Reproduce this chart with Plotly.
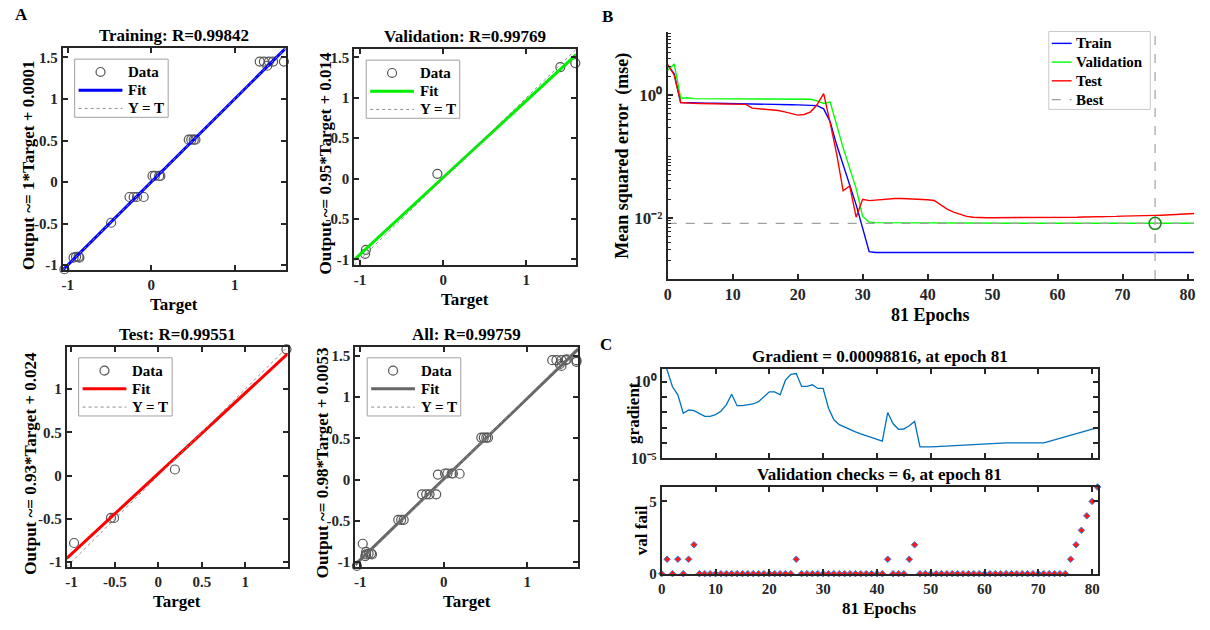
import plotly.graph_objects as go

W, H = 1210, 630
FONT = "Liberation Serif"
AX = "#262626"

# ---------------- regression data: target vs network output ----------------
train_target = [1.30, 1.35, 1.39, 1.41, 1.46, 1.59, 0.45, 0.48, 0.51, 0.53,
                0.016, 0.044, 0.095, 0.11, -0.26, -0.21, -0.17, -0.09, -0.48,
                -0.93, -0.90, -0.87, -0.86, -1.04]
train_output = [1.45, 1.45, 1.40, 1.45, 1.45, 1.45, 0.51, 0.51, 0.51, 0.51,
                0.073, 0.073, 0.073, 0.073, -0.18, -0.18, -0.18, -0.18, -0.49,
                -0.91, -0.90, -0.90, -0.91, -1.05]
val_target = [-0.93, -0.94, -0.07, 1.41, 1.59]
val_output = [-0.88, -0.93, 0.06, 1.38, 1.43]
test_target = [-0.97, -0.545, -0.51, 0.19, 1.474]
test_output = [-0.78, -0.49, -0.49, 0.07, 1.46]
all_target = train_target + val_target + test_target
all_output = train_output + val_output + test_output

# regression fit (slope, intercept) and R of each subset
fit_coef = {"Training": (1.0, 0.0001), "Validation": (0.95, 0.014),
            "Test": (0.93, 0.024), "All": (0.98, 0.0053)}
r_value = {"Training": "0.99842", "Validation": "0.99769",
           "Test": "0.99551", "All": "0.99759"}

# ---------------- training record ----------------
epochs = list(range(82))
train_mse = [3.09, 2.24, 0.759, 0.750, 0.748, 0.745, 0.742, 0.740, 0.738, 0.735,
             0.733, 0.730, 0.727, 0.723, 0.720, 0.716, 0.712, 0.708, 0.704, 0.700,
             0.695, 0.690, 0.685, 0.676, 0.600, 0.370, 0.155, 0.0724, 0.0347, 0.0162,
             0.00676, 0.00280, 0.00270, 0.00270, 0.00270, 0.00270, 0.00270, 0.00270,
             0.00270, 0.00270, 0.00270, 0.00270, 0.00270, 0.00270, 0.00270, 0.00270,
             0.00270, 0.00270, 0.00270, 0.00270, 0.00270, 0.00270, 0.00270, 0.00270,
             0.00270, 0.00270, 0.00270, 0.00270, 0.00270, 0.00270, 0.00270, 0.00270,
             0.00270, 0.00270, 0.00270, 0.00270, 0.00270, 0.00270, 0.00270, 0.00270,
             0.00270, 0.00270, 0.00270, 0.00270, 0.00270, 0.00270, 0.00270, 0.00270,
             0.00270, 0.00270, 0.00270, 0.00270]
val_mse = [2.57, 3.24, 0.891, 0.912, 0.880, 0.878, 0.877, 0.876, 0.875, 0.874,
           0.873, 0.872, 0.871, 0.870, 0.869, 0.868, 0.867, 0.866, 0.865, 0.864,
           0.863, 0.862, 0.860, 0.810, 0.733, 0.776, 0.324, 0.138, 0.0646, 0.0302,
           0.0105, 0.0085, 0.00830, 0.00828, 0.00826, 0.00825, 0.00824, 0.00823,
           0.00822, 0.00821, 0.00820, 0.00819, 0.00821, 0.00818, 0.00817, 0.00816,
           0.00817, 0.00818, 0.00815, 0.00815, 0.00814, 0.00814, 0.00814, 0.00813,
           0.00813, 0.00813, 0.00813, 0.00812, 0.00812, 0.00812, 0.00812, 0.00812,
           0.00811, 0.00811, 0.00811, 0.00811, 0.00811, 0.00811, 0.00811, 0.00811,
           0.00810, 0.00810, 0.00810, 0.00810, 0.00810, 0.00809, 0.00810, 0.00810,
           0.00811, 0.00811, 0.00811, 0.00812]
test_mse = [3.16, 2.14, 0.760, 0.741, 0.735, 0.734, 0.733, 0.733, 0.732, 0.731,
            0.730, 0.728, 0.710, 0.617, 0.607, 0.592, 0.578, 0.563, 0.536, 0.504,
            0.473, 0.485, 0.536, 0.705, 1.06, 0.355, 0.110, 0.0275, 0.0331, 0.0102,
            0.0200, 0.0190, 0.0195, 0.0200, 0.0204, 0.0206, 0.0206, 0.0205, 0.0203,
            0.0201, 0.0197, 0.0191, 0.0162, 0.0138, 0.0123, 0.0112, 0.0105, 0.0102,
            0.0100, 0.0100, 0.0100, 0.0100, 0.0100, 0.0100, 0.0100, 0.0100, 0.0100,
            0.0101, 0.0101, 0.0101, 0.0101, 0.0102, 0.0102, 0.0102, 0.0103, 0.0103,
            0.0104, 0.0104, 0.0105, 0.0105, 0.0106, 0.0106, 0.0107, 0.0108, 0.0108,
            0.0109, 0.0110, 0.0111, 0.0112, 0.0114, 0.0115, 0.0117]
gradient = [31.6, 5.62, 0.457, 0.138, 0.00871, 0.0141, 0.0129, 0.00794, 0.00537,
            0.00537, 0.00708, 0.0117, 0.0302, 0.151, 0.0269, 0.0269, 0.0302, 0.0347,
            0.0490, 0.102, 0.214, 0.214, 0.138, 1.23, 2.95, 3.31, 0.479, 0.479,
            0.617, 0.355, 0.355, 0.0182, 0.00324, 0.00155, 0.00105, 0.000741,
            0.000525, 0.000389, 0.000288, 0.000224, 0.000166, 0.000132, 0.00955,
            0.00178, 0.000776, 0.000813, 0.00132, 0.00251, 5.62e-5, 5.37e-5, 5.62e-5,
            5.89e-5, 6.17e-5, 6.46e-5, 6.92e-5, 7.24e-5, 7.59e-5, 7.94e-5, 8.32e-5,
            8.91e-5, 9.33e-5, 9.55e-5, 9.77e-5, 1.00e-4, 1.02e-4, 1.02e-4, 1.02e-4,
            1.00e-4, 9.77e-5, 9.55e-5, 9.33e-5, 1.02e-4, 1.26e-4, 1.58e-4, 2.00e-4,
            2.51e-4, 3.16e-4, 3.98e-4, 5.01e-4, 6.31e-4, 7.94e-4, 0.00098816]
val_fail = [0, 1, 0, 1, 0, 1, 2, 0, 0, 0, 0, 0, 0, 0, 0, 0, 0, 0, 0, 0,
            0, 0, 0, 0, 0, 1, 0, 0, 0, 0, 0, 0, 0, 0, 0, 0, 0, 0, 0, 0,
            0, 0, 1, 0, 0, 0, 1, 2, 0, 0, 0, 0, 0, 0, 0, 0, 0, 0, 0, 0,
            0, 0, 0, 0, 0, 0, 0, 0, 0, 0, 0, 0, 0, 0, 0, 0, 1, 2, 3, 4,
            5, 6]

best_epoch = min(range(len(val_mse)), key=lambda i: val_mse[i])
best_val = val_mse[best_epoch]


def px(x):
    return x / W


def py(y):
    return 1 - y / H


def bold(size, color="black"):
    return dict(family=FONT, size=size, color=color, weight="bold")


def box_axis(**kw):
    base = dict(showline=True, linecolor=AX, linewidth=2, mirror="ticks",
                ticks="inside", ticklen=5, tickwidth=1.5, tickcolor=AX,
                showgrid=False, zeroline=False, tickfont=bold(15, AX))
    base.update(kw)
    return base


def num_labels(vals):
    return [("%g" % v) for v in vals]


def pow10(exp):
    sup = str.maketrans("-0123456789", "\u207b\u2070\u00b9\u00b2\u00b3\u2074\u2075\u2076\u2077\u2078\u2079")
    return "10" + str(exp).translate(sup)


fig = go.Figure()
annotations = []
shapes = []


def note(x, y, s, size, angle=0, xanchor="center"):
    annotations.append(dict(x=px(x), y=py(y), xref="paper", yref="paper", text=s,
                            showarrow=False, font=bold(size), textangle=angle,
                            xanchor=xanchor, yanchor="middle"))


def key_box(x0, y0, x1, y1, border):
    shapes.append(dict(type="rect", xref="paper", yref="paper", layer="above",
                       x0=px(x0), x1=px(x1), y0=py(y1), y1=py(y0),
                       line=dict(color=border, width=1), fillcolor="white"))


def key_line(x0, x1, y, color, width, dash="solid"):
    shapes.append(dict(type="line", xref="paper", yref="paper", layer="above",
                       x0=px(x0), x1=px(x1), y0=py(y), y1=py(y),
                       line=dict(color=color, width=width, dash=dash)))


def key_circle(cx, cy, r, color, width=1.2):
    shapes.append(dict(type="circle", xref="paper", yref="paper", layer="above",
                       x0=px(cx - r), x1=px(cx + r), y0=py(cy + r), y1=py(cy - r),
                       line=dict(color=color, width=width)))


# ---------------- panel A: four regression plots ----------------
panels = [
    # name, axis suffix, targets, outputs, fit colour, pixel box, range,
    # x ticks, y ticks, y-title offset
    ("Training", "", train_target, train_output, "#0000ff",
     (59, 283, 49, 274), (-1.06, 1.61), [-1, 0, 1], [-1, -0.5, 0, 0.5, 1, 1.5], 35),
    ("Validation", "2", val_target, val_output, "#00ee00",
     (352, 575, 50, 269), (-1.07, 1.60), [-1, 0, 1], [-1, -0.5, 0, 0.5, 1, 1.5], 29),
    ("Test", "3", test_target, test_output, "#ff0000",
     (63, 285, 352, 575), (-1.055, 1.487), [-1, -0.5, 0, 0.5, 1], [-1, -0.5, 0, 0.5, 1], 36),
    ("All", "4", all_target, all_output, "#666666",
     (353, 577, 352, 575), (-1.06, 1.61), [-1, 0, 1], [-1, -0.5, 0, 0.5, 1, 1.5], 33),
]

layout_axes = {}
for name, sfx, tx, ty, col, (x0, x1, y0, y1), rng, xt, yt, yoff in panels:
    xa, ya = "x" + sfx, "y" + sfx
    lo, hi = rng
    a, b = fit_coef[name]
    fig.add_trace(go.Scatter(x=tx, y=ty, mode="markers", name="Data",
                             marker=dict(symbol="circle-open", size=9,
                                         color="#555555", line=dict(width=1.2)),
                             cliponaxis=False, xaxis=xa, yaxis=ya, showlegend=False))
    fig.add_trace(go.Scatter(x=[lo, hi], y=[a * lo + b, a * hi + b], mode="lines",
                             name="Fit", line=dict(color=col, width=3),
                             xaxis=xa, yaxis=ya, showlegend=False))
    fig.add_trace(go.Scatter(x=[lo, hi], y=[lo, hi], mode="lines", name="Y = T",
                             line=dict(color="#8c8c8c", width=1, dash="dot"),
                             xaxis=xa, yaxis=ya, showlegend=False))
    layout_axes["xaxis" + sfx] = box_axis(domain=[px(x0), px(x1)], range=[lo, hi],
                                          anchor=ya, tickvals=xt,
                                          ticktext=num_labels(xt))
    layout_axes["yaxis" + sfx] = box_axis(domain=[py(y1), py(y0)], range=[lo, hi],
                                          anchor=xa, tickvals=yt,
                                          ticktext=num_labels(yt))
    # key: Data / Fit / Y = T
    key_box(x0 + 12, y0 + 11, x0 + 106, y0 + 70, "#a0a0a0")
    key_circle(x0 + 38, y0 + 24, 4.5, "#555555")
    key_line(x0 + 16, x0 + 60, y0 + 42.5, col, 3)
    key_line(x0 + 16, x0 + 60, y0 + 61, "#8c8c8c", 1, "dot")
    note(x0 + 64, y0 + 24, "Data", 15, xanchor="left")
    note(x0 + 64, y0 + 42.5, "Fit", 15, xanchor="left")
    note(x0 + 64, y0 + 61, "Y = T", 15, xanchor="left")

    cx = (x0 + x1) / 2
    note(cx, y0 - 13, f"{name}: R={r_value[name]}", 17)
    note(cx, y1 + 35, "Target", 17)
    slope = "%g" % a
    icpt = "%g" % b
    note(x0 - yoff, (y0 + y1) / 2 + 6, f"Output ~= {slope}*Target + {icpt}", 17,
         angle=-90)

note(18, 15, "A", 17)

# ---------------- panel B: performance curves ----------------
perf = [("Train", train_mse, "#0000ff"), ("Validation", val_mse, "#00ff00"),
        ("Test", test_mse, "#ff0000")]
for label, series, col in perf:
    fig.add_trace(go.Scatter(x=epochs, y=series, mode="lines", name=label,
                             line=dict(color=col, width=1.4), showlegend=False,
                             xaxis="x5", yaxis="y5"))
B_YLOG = (-3, 1.04)
fig.add_trace(go.Scatter(x=[0, epochs[-1] + 1, None, best_epoch, best_epoch],
                         y=[best_val, best_val, None, 10 ** B_YLOG[0], 10 ** B_YLOG[1]],
                         mode="lines", name="Best", showlegend=False,
                         line=dict(color="#a0a0a0", width=1.2, dash="dash"),
                         xaxis="x5", yaxis="y5"))
fig.add_trace(go.Scatter(x=[best_epoch], y=[best_val], mode="markers", showlegend=False,
                         marker=dict(symbol="circle-open", size=12, color="#1a8a1a",
                                     line=dict(width=1.5)),
                         cliponaxis=False, xaxis="x5", yaxis="y5"))

minor_b = [k * 10 ** d for d in range(-3, 2) for k in range(1, 10)
           if not (k == 1 and d in (-2, 0))]
layout_axes["xaxis5"] = box_axis(domain=[px(667), px(1196)], range=[0, 81],
                                 anchor="y5", mirror=False,
                                 tickvals=list(range(0, 81, 10)),
                                 tickfont=bold(16, AX))
layout_axes["yaxis5"] = box_axis(domain=[py(283), py(32)], type="log",
                                 range=list(B_YLOG), anchor="x5", mirror=False,
                                 tickvals=[0.01, 1],
                                 ticktext=[pow10(-2), pow10(0)],
                                 tickfont=bold(17, AX),
                                 minor=dict(ticks="inside", ticklen=3, tickwidth=1,
                                            tickcolor=AX, tickmode="array",
                                            tickvals=minor_b))
# key for panel B
key_box(1050, 32, 1152, 111, "#c8c8c8")
b_rows = [44, 63, 82, 101]
for (label, _, col), yy in zip(perf, b_rows):
    key_line(1053, 1073, yy, col, 1.4)
    note(1075, yy, label, 15, xanchor="left")
key_line(1053, 1073, b_rows[3], "#a0a0a0", 1.2, "dash")
note(1075, b_rows[3], "Best", 15, xanchor="left")

note(607, 17, "B", 17)
note(931, 320, f"{len(epochs) - 1} Epochs", 18)
note(622, 158, "Mean squared error \u00a0(mse)", 18, angle=-90)

# ---------------- panel C: gradient and validation checks ----------------
fig.add_trace(go.Scatter(x=epochs, y=gradient, mode="lines", showlegend=False,
                         line=dict(color="#0072BD", width=1.3),
                         xaxis="x6", yaxis="y6"))
fig.add_trace(go.Scatter(x=epochs, y=val_fail, mode="markers", showlegend=False,
                         marker=dict(symbol="diamond", size=5, color="#ff1a1a",
                                     line=dict(color="#3a7be0", width=1)),
                         cliponaxis=False, xaxis="x7", yaxis="y7"))

layout_axes["xaxis6"] = box_axis(domain=[px(661), px(1099)], range=[0, 81],
                                 anchor="y6", tickvals=list(range(0, 81, 10)),
                                 showticklabels=False)
layout_axes["yaxis6"] = box_axis(domain=[py(465), py(374)], type="log",
                                 range=[-5, 0.84], anchor="x6",
                                 tickvals=[1e-5, 1],
                                 ticktext=[pow10(-5), pow10(0)],
                                 tickfont=bold(16, AX),
                                 minor=dict(ticks="inside", ticklen=5, tickwidth=1.5,
                                            tickcolor=AX, tickmode="array",
                                            tickvals=[1e-4, 1e-3, 1e-2, 1e-1]))
layout_axes["xaxis7"] = box_axis(domain=[px(661), px(1099)], range=[0, 81],
                                 anchor="y7", tickvals=list(range(0, 81, 10)))
layout_axes["yaxis7"] = box_axis(domain=[py(582), py(494)], range=[0, 6],
                                 anchor="x7", tickvals=[0, 5])

note(605, 349, "C", 17)
note(880, 362, f"Gradient = {gradient[-1]:.8f}, at epoch {epochs[-1]}", 17)
note(880, 481, f"Validation checks = {val_fail[-1]}, at epoch {epochs[-1]}", 17)
note(880, 617, f"{len(epochs) - 1} Epochs", 17)
note(632, 419, "gradient", 17, angle=-90)
note(640, 538, "val fail", 17, angle=-90)

fig.update_layout(width=W, height=H, margin=dict(l=0, r=0, t=0, b=0),
                  paper_bgcolor="white", plot_bgcolor="white", showlegend=False,
                  font=dict(family=FONT, color="black"),
                  annotations=annotations, shapes=shapes, **layout_axes)

fig.write_html("out.html")
